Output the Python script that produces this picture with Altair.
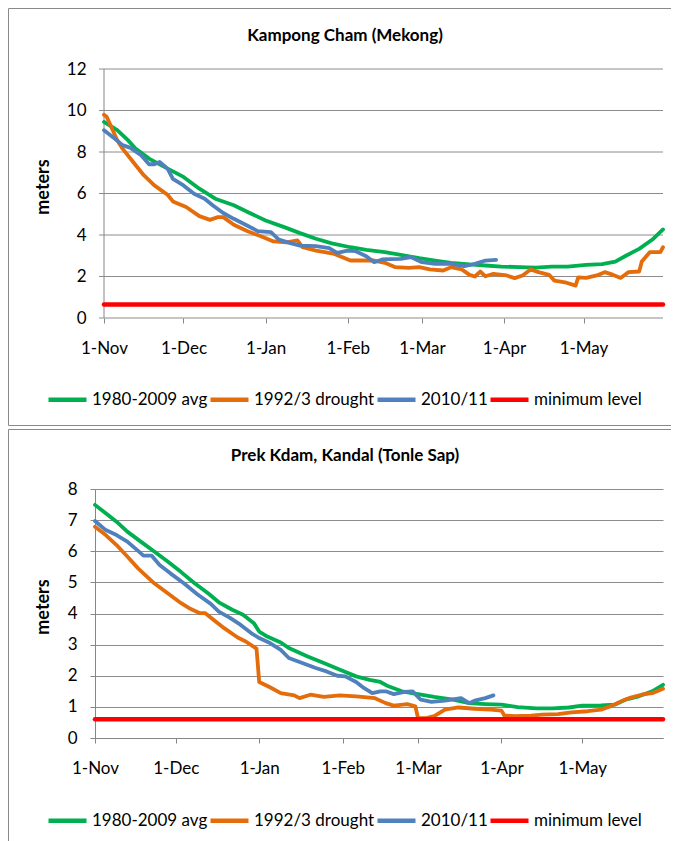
import altair as alt
import pandas as pd

# ---------------- shared categories ----------------
SERIES = ["1980-2009 avg", "1992/3 drought", "2010/11", "minimum level"]
COLORS = ["#00B050", "#E46C0A", "#4F81BD", "#FF0000"]
MONTH_TICKS = [0, 30, 61, 92, 120, 151, 181]          # days after 1-Nov
MONTH_LABELS = ["1-Nov", "1-Dec", "1-Jan", "1-Feb", "1-Mar", "1-Apr", "1-May"]
LAST_DAY = 211

# ---------------- Kampong Cham (Mekong) ----------------
KC_TITLE = "Kampong Cham (Mekong)"
KC_Y_TICKS = [0, 2, 4, 6, 8, 10, 12]
KC_AVG_DAYS = [0, 5, 9, 12, 17, 24, 30, 36, 42, 49, 55, 61, 68, 74, 80, 86, 93, 99, 106,
               112, 119, 125, 131, 138, 144, 150, 157, 163, 169, 175, 182, 188, 193, 197,
               202, 207, 211]
KC_AVG_VALS = [9.45, 9.05, 8.57, 8.16, 7.68, 7.2, 6.8, 6.23, 5.75, 5.43, 5.06, 4.7, 4.38,
               4.09, 3.82, 3.6, 3.41, 3.28, 3.18, 3.04, 2.88, 2.77, 2.66, 2.58, 2.53, 2.48,
               2.45, 2.43, 2.48, 2.48, 2.56, 2.6, 2.72, 3.0, 3.33, 3.78, 4.27]
KC_DRY_DAYS = [0, 1, 3, 5, 7, 11, 15, 19, 24, 26, 31, 36, 40, 43, 45, 49, 54, 59, 64, 69,
               73, 75, 80, 87, 93, 98, 102, 106, 110, 115, 119, 123, 128, 131, 135, 138,
               140, 142, 144, 147, 152, 155, 158, 161, 164, 168, 170, 174, 178, 179, 182,
               186, 189, 192, 195, 198, 202, 203, 206, 210, 211]
KC_DRY_VALS = [9.8, 9.7, 9.13, 8.57, 8.16, 7.52, 6.88, 6.39, 5.94, 5.62, 5.35, 4.91, 4.73,
               4.86, 4.86, 4.49, 4.19, 3.95, 3.69, 3.65, 3.74, 3.41, 3.25, 3.09, 2.77, 2.77,
               2.77, 2.66, 2.45, 2.42, 2.45, 2.34, 2.29, 2.45, 2.34, 2.08, 2.0, 2.24, 2.01,
               2.13, 2.05, 1.92, 2.05, 2.34, 2.21, 2.08, 1.8, 1.72, 1.56, 1.96, 1.93, 2.05,
               2.21, 2.09, 1.93, 2.21, 2.24, 2.72, 3.17, 3.17, 3.41]
KC_1011_DAYS = [0, 4, 7, 10, 14, 17, 19, 21, 24, 26, 30, 34, 38, 41, 45, 49, 54, 58, 63,
                66, 70, 74, 80, 85, 88, 92, 95, 99, 102, 105, 108, 112, 116, 120, 125, 131,
                136, 140, 144, 148]
KC_1011_VALS = [9.05, 8.65, 8.33, 8.2, 7.84, 7.41, 7.41, 7.52, 7.2, 6.71, 6.39, 5.99, 5.75,
                5.43, 5.06, 4.78, 4.46, 4.19, 4.14, 3.78, 3.62, 3.49, 3.46, 3.37, 3.14, 3.25,
                3.22, 2.98, 2.69, 2.82, 2.84, 2.85, 2.93, 2.69, 2.61, 2.61, 2.5, 2.61, 2.77,
                2.8]
KC_MIN_DAYS = [0, 211]
KC_MIN_VALS = [0.65, 0.65]

# ---------------- Prek Kdam, Kandal (Tonle Sap) ----------------
PK_TITLE = "Prek Kdam, Kandal (Tonle Sap)"
PK_Y_TICKS = [0, 1, 2, 3, 4, 5, 6, 7, 8]
PK_AVG_DAYS = [0, 4, 8, 12, 17, 22, 27, 32, 37, 42, 46, 51, 55, 59, 61, 64, 69, 72, 79, 85,
               91, 97, 102, 106, 109, 114, 120, 126, 133, 139, 145, 151, 157, 164, 170, 176,
               181, 188, 193, 197, 202, 207, 211]
PK_AVG_VALS = [7.49, 7.22, 6.95, 6.63, 6.31, 5.99, 5.67, 5.33, 4.97, 4.65, 4.36, 4.12, 3.96,
               3.69, 3.42, 3.26, 3.07, 2.89, 2.62, 2.41, 2.19, 1.98, 1.87, 1.8, 1.66, 1.5,
               1.41, 1.32, 1.23, 1.12, 1.09, 1.07, 0.99, 0.95, 0.95, 0.98, 1.04, 1.05, 1.07,
               1.23, 1.34, 1.5, 1.71]
PK_DRY_DAYS = [0, 4, 8, 12, 16, 18, 22, 27, 32, 35, 39, 41, 44, 48, 53, 56, 60, 61, 65, 69,
               74, 76, 80, 85, 91, 97, 104, 108, 111, 116, 119, 120, 123, 126, 130, 135, 141,
               147, 151, 152, 156, 162, 166, 172, 177, 183, 188, 192, 196, 199, 203, 207, 211]
PK_DRY_VALS = [6.79, 6.52, 6.2, 5.83, 5.45, 5.29, 4.97, 4.65, 4.33, 4.17, 4.01, 4.01, 3.8,
               3.53, 3.23, 3.1, 2.87, 1.8, 1.63, 1.44, 1.37, 1.28, 1.39, 1.32, 1.37, 1.34,
               1.28, 1.12, 1.04, 1.09, 1.02, 0.64, 0.64, 0.7, 0.91, 0.98, 0.94, 0.91, 0.88,
               0.73, 0.7, 0.72, 0.75, 0.77, 0.82, 0.86, 0.91, 1.04, 1.2, 1.3, 1.39, 1.44, 1.58]
PK_1011_DAYS = [0, 4, 8, 12, 16, 18, 21, 24, 28, 33, 38, 43, 46, 50, 54, 58, 61, 65, 69, 72,
                77, 82, 86, 90, 93, 97, 100, 103, 106, 108, 111, 115, 118, 121, 125, 130,
                136, 139, 141, 145, 148]
PK_1011_VALS = [6.97, 6.68, 6.52, 6.31, 6.01, 5.86, 5.86, 5.56, 5.29, 4.97, 4.62, 4.31, 4.06,
                3.87, 3.64, 3.37, 3.21, 3.05, 2.83, 2.57, 2.41, 2.25, 2.14, 2.0, 1.98, 1.8,
                1.6, 1.44, 1.5, 1.5, 1.41, 1.48, 1.5, 1.23, 1.16, 1.2, 1.28, 1.12, 1.2, 1.28,
                1.37]
PK_MIN_DAYS = [0, 211]
PK_MIN_VALS = [0.6, 0.6]

# ---------------- styling ----------------
W, H = 568, 249
GRID = "#8c8c8c"
AXIS = "#868686"
FRAME = "#8a8a8a"
FONT = "Lato"
FRAME_RIGHT = 576      # keeps the whole SVG within the 664px-wide page body

LABEL_EXPR = ("[" + ",".join(f"'{s}'" for s in MONTH_LABELS) + "][indexof(["
              + ",".join(str(t) for t in MONTH_TICKS) + "], datum.value)]")


def long_frame(parts):
    rows = []
    for name, days, vals in parts:
        rows += [{"day": d, "level": v, "series": name} for d, v in zip(days, vals)]
    return pd.DataFrame(rows)


one = pd.DataFrame({"k": [0]})


def hrule(x1, x2, y):
    return alt.Chart(one).mark_rule(color=FRAME, strokeWidth=1).encode(
        x=alt.value(x1), x2=alt.value(x2), y=alt.value(y))


def vrule(x, y1, y2):
    return alt.Chart(one).mark_rule(color=FRAME, strokeWidth=1).encode(
        x=alt.value(x), y=alt.value(y1), y2=alt.value(y2))


def title_mark(text):
    return alt.Chart(one).mark_text(
        font=FONT, fontSize=17, fontWeight="bold", color="black",
        baseline="alphabetic", align="center").encode(
        x=alt.value(250), y=alt.value(-28.5), text=alt.value(text))


def color_enc(legend_y):
    return alt.Color(
        "series:N",
        scale=alt.Scale(domain=SERIES, range=COLORS),
        legend=alt.Legend(
            title=None, orient="none", legendX=-49, legendY=legend_y,
            direction="horizontal", columns=4, symbolType="stroke",
            symbolSize=1444, symbolStrokeWidth=4.5, labelFont=FONT,
            labelFontSize=17, labelColor="black", labelOffset=3,
            columnPadding=-7, padding=0, labelLimit=0,
        ),
    )


def x_axis(domain_line):
    return alt.Axis(values=MONTH_TICKS, labelExpr=LABEL_EXPR, title=None, grid=False,
                    domain=domain_line, domainColor=AXIS, ticks=True, tickSize=5,
                    tickColor=AXIS, labelPadding=17, labelFlush=False,
                    labelOverlap=False, labelFont=FONT, labelFontSize=17,
                    labelColor="black")


def y_axis_common(**kw):
    return alt.Axis(title="meters", titleX=-52, titleY=117.5, titleAngle=270,
                    titleAlign="center", titleBaseline="middle", titleFont=FONT,
                    titleFontSize=18, titleFontWeight="bold", titleColor="black",
                    labelFont=FONT, labelFontSize=17, labelColor="black", **kw)


def lines(df, x_enc, y_enc, legend_y):
    return alt.Chart(df).mark_line(strokeJoin="round", strokeCap="round").encode(
        x=x_enc, y=y_enc, color=color_enc(legend_y),
        strokeWidth=alt.condition("datum.series == 'minimum level'",
                                  alt.value(4.5), alt.value(3.8)),
    )


# ---------------- top panel ----------------
kc = long_frame([
    (SERIES[0], KC_AVG_DAYS, KC_AVG_VALS),
    (SERIES[1], KC_DRY_DAYS, KC_DRY_VALS),
    (SERIES[2], KC_1011_DAYS, KC_1011_VALS),
    (SERIES[3], KC_MIN_DAYS, KC_MIN_VALS),
])
kc_x = alt.X("day:Q", scale=alt.Scale(domain=[-3.397, LAST_DAY], nice=False, zero=False),
             axis=x_axis(False))
kc_y = alt.Y("level:Q", scale=alt.Scale(domain=[0, 12], nice=False),
             axis=y_axis_common(values=KC_Y_TICKS, grid=False, domain=False, ticks=False,
                                tickSize=0, labelPadding=9))
kc_grid = alt.Chart(pd.DataFrame({"level": KC_Y_TICKS})).mark_rule(
    color=GRID, strokeWidth=1).encode(y=kc_y, x=alt.value(4), x2=alt.value(W))
kc_axisline = alt.Chart(one).mark_rule(color=AXIS, strokeWidth=1).encode(x=alt.value(9))

top = alt.layer(
    hrule(-86.5, FRAME_RIGHT, -60.5), vrule(-86.5, -60.5, 356.5),
    hrule(-86.5, FRAME_RIGHT, 356.5),
    title_mark(KC_TITLE), kc_grid, kc_axisline, lines(kc, kc_x, kc_y, 309),
).properties(width=W, height=H)

# ---------------- bottom panel ----------------
pk = long_frame([
    (SERIES[0], PK_AVG_DAYS, PK_AVG_VALS),
    (SERIES[1], PK_DRY_DAYS, PK_DRY_VALS),
    (SERIES[2], PK_1011_DAYS, PK_1011_VALS),
    (SERIES[3], PK_MIN_DAYS, PK_MIN_VALS),
])
pk_x = alt.X("day:Q", scale=alt.Scale(domain=[0, LAST_DAY], nice=False, zero=False),
             axis=x_axis(True))
pk_y = alt.Y("level:Q", scale=alt.Scale(domain=[0, 8], nice=False),
             axis=y_axis_common(values=PK_Y_TICKS, grid=True, gridColor=GRID,
                                domain=True, domainColor=AXIS, ticks=True, tickSize=5,
                                tickColor=AXIS, labelPadding=13))

bottom = alt.layer(
    hrule(-86.5, FRAME_RIGHT, -59.5), vrule(-86.5, -59.5, 360), title_mark(PK_TITLE),
    lines(pk, pk_x, pk_y, 310),
).properties(width=W, height=H)

chart = (
    alt.vconcat(top, bottom, spacing=171, bounds="flush")
    .resolve_scale(x="independent", y="independent", color="independent")
    .resolve_legend(color="independent")
    .properties(padding=0)
    .configure(font=FONT)
    .configure_view(stroke=None)
)

chart.save("out.html", embed_options={"renderer": "svg", "actions": False})
